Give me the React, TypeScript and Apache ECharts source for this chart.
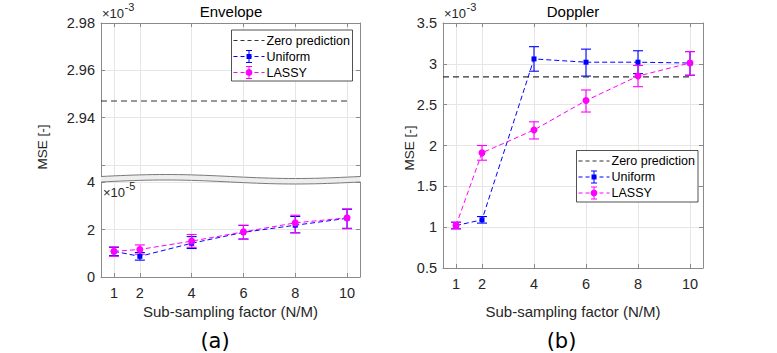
import React, { useEffect, useRef } from "react";
import * as echarts from "echarts";

// ---------- data ----------
const factors = [1, 2, 4, 6, 8, 10];

// Envelope (upper panel in ×1e-3, lower panel in ×1e-5)
const envZeroPrediction = 2.947;
const envUniform = [1.08, 0.87, 1.42, 1.88, 2.18, 2.47];
const envUniformLo = [0.9, 0.71, 1.2, 1.6, 1.86, 2.05];
const envUniformHi = [1.25, 1.03, 1.7, 2.17, 2.55, 2.85];
const envLassy = [1.08, 1.16, 1.51, 1.9, 2.28, 2.49];
const envLassyLo = [0.87, 0.96, 1.25, 1.59, 1.86, 2.03];
const envLassyHi = [1.27, 1.35, 1.79, 2.18, 2.6, 2.87];

// Doppler (×1e-3)
const dopZeroPrediction = 2.84;
const dopUniform = [1.02, 1.09, 3.06, 3.02, 3.02, 3.01];
const dopUniformLo = [0.98, 1.05, 2.91, 2.85, 2.88, 2.86];
const dopUniformHi = [1.06, 1.13, 3.21, 3.18, 3.16, 3.15];
const dopLassy = [1.02, 1.91, 2.19, 2.55, 2.85, 3.01];
const dopLassyLo = [0.98, 1.82, 2.08, 2.41, 2.72, 2.86];
const dopLassyHi = [1.06, 2.0, 2.29, 2.68, 2.98, 3.15];

const envUpperTickLabels = [2.94, 2.96, 2.98];
const envUpperTicks = [2.92, 2.94, 2.96, 2.98];
const zeroLineX = [0.5, 10];

const seriesNames = ["Zero prediction", "Uniform", "LASSY"];

// ---------- style ----------
const FONT = "'Liberation Sans', Arial, Helvetica, sans-serif";
const AXIS = "#8a8a8a";
const GRIDC = "#e6e6e6";
const TXT = "#262626";
const BLUE = "#0000ff";
const MAG = "#ff00ff";
const ZERO = "#333333";

const pairs = (xs: number[], ys: number[]) => xs.map((x, i) => [x, ys[i]]);
const triples = (xs: number[], lo: number[], hi: number[]) => xs.map((x, i) => [x, lo[i], hi[i]]);

function errBars(name: string, color: string, xi: number, yi: number, data: number[][]) {
  return {
    type: "custom",
    name,
    xAxisIndex: xi,
    yAxisIndex: yi,
    data,
    encode: { x: 0, y: [1, 2] },
    renderItem: (params: any, api: any) => {
      const x = api.value(0);
      const top = api.coord([x, api.value(2)]);
      const bot = api.coord([x, api.value(1)]);
      const hw = 5;
      const st = { stroke: color, lineWidth: 1.1 };
      return {
        type: "group",
        children: [
          { type: "line", shape: { x1: top[0], y1: top[1], x2: bot[0], y2: bot[1] }, style: st },
          { type: "line", shape: { x1: top[0] - hw, y1: top[1], x2: top[0] + hw, y2: top[1] }, style: st },
          { type: "line", shape: { x1: bot[0] - hw, y1: bot[1], x2: bot[0] + hw, y2: bot[1] }, style: st },
        ],
      };
    },
    z: 3,
  };
}

function lineSeries(name: string, color: string, xi: number, yi: number, data: number[][], symbol: string, size: number) {
  return {
    type: "line",
    name,
    xAxisIndex: xi,
    yAxisIndex: yi,
    data,
    symbol,
    symbolSize: size,
    showSymbol: true,
    itemStyle: { color, borderWidth: 0 },
    lineStyle: { color, width: 1, type: [5, 3] },
    z: 4,
  };
}

function xAxisCfg(grid: number, position: string, labels: boolean, split: boolean, name?: string, nameGap?: number) {
  return {
    type: "value",
    gridIndex: grid,
    position,
    min: 0.5,
    max: 10.5,
    name: name || "",
    nameLocation: "middle",
    nameGap: nameGap || 0,
    nameTextStyle: { fontFamily: FONT, fontSize: 15, color: TXT },
    axisLine: { show: true, onZero: false, lineStyle: { color: AXIS, width: 1 } },
    axisTick: { show: true, inside: true, length: 4, customValues: factors, lineStyle: { color: AXIS } },
    axisLabel: { show: labels, customValues: factors, margin: 8, fontFamily: FONT, fontSize: 14.5, color: TXT },
    splitLine: { show: split, lineStyle: { color: GRIDC, width: 1 } },
  };
}

function yAxisCfg(grid: number, position: string, labels: boolean, split: boolean, min: number, max: number, extra: any) {
  return {
    type: "value",
    gridIndex: grid,
    position,
    min,
    max,
    axisLine: { show: true, onZero: false, lineStyle: { color: AXIS, width: 1 } },
    axisTick: { show: true, inside: true, length: 4, lineStyle: { color: AXIS }, ...(extra.tick || {}) },
    axisLabel: {
      show: labels,
      margin: 6,
      fontFamily: FONT,
      fontSize: 14.5,
      color: TXT,
      ...(extra.label || {}),
    },
    splitLine: { show: split, lineStyle: { color: GRIDC, width: 1 } },
    ...(extra.axis || {}),
  };
}

function legendGraphic(bx: number, by: number, bw: number, bh: number) {
  const els: any[] = [];
  els.push({
    type: "rect",
    shape: { x: bx, y: by, width: bw, height: bh },
    style: { fill: "#ffffff", stroke: "#262626", lineWidth: 0.8 },
    z: 100,
  });
  const lx0 = bx + 2;
  const lx1 = bx + 33;
  const mx = (lx0 + lx1) / 2;
  const colors = [ZERO, BLUE, MAG];
  seriesNames.forEach((nm, i) => {
    const cy = by + 10.5 + i * 16;
    const c = colors[i];
    els.push({
      type: "line",
      shape: { x1: lx0, y1: cy, x2: lx1, y2: cy },
      style: { stroke: c, lineWidth: 1, lineDash: [4, 3] },
      z: 101,
    });
    if (i > 0) {
      const st = { stroke: c, lineWidth: 1 };
      els.push({ type: "line", shape: { x1: mx, y1: cy - 6, x2: mx, y2: cy + 6 }, style: st, z: 101 });
      els.push({ type: "line", shape: { x1: mx - 3, y1: cy - 6, x2: mx + 3, y2: cy - 6 }, style: st, z: 101 });
      els.push({ type: "line", shape: { x1: mx - 3, y1: cy + 6, x2: mx + 3, y2: cy + 6 }, style: st, z: 101 });
      if (i === 1) {
        els.push({ type: "rect", shape: { x: mx - 2.5, y: cy - 2.5, width: 5, height: 5 }, style: { fill: c }, z: 102 });
      } else {
        els.push({ type: "circle", shape: { cx: mx, cy, r: 3.4 }, style: { fill: c }, z: 102 });
      }
    }
    els.push({
      type: "text",
      x: lx1 + 2,
      y: cy,
      style: { text: nm, fontFamily: FONT, fontSize: 12.5, fill: "#000", verticalAlign: "middle", align: "left" },
      z: 101,
    });
  });
  return els;
}

function exponentLabel(x: number, y: number, exp: string) {
  return [
    {
      type: "text",
      x,
      y,
      style: { text: "×10", fontFamily: FONT, fontSize: 13, fill: TXT, verticalAlign: "middle", align: "left" },
      z: 50,
    },
    {
      type: "text",
      x: x + 22.5,
      y: y - 6.5,
      style: { text: exp, fontFamily: FONT, fontSize: 11, fill: TXT, verticalAlign: "middle", align: "left" },
      z: 50,
    },
  ];
}

function breakGraphic(x0: number, w: number, yTop: number, gap: number) {
  const upper: number[][] = [];
  const lower: number[][] = [];
  const n = 40;
  for (let i = 0; i <= n; i++) {
    const x = x0 + (w * i) / n;
    const dy = -2 * Math.sin((2 * Math.PI * i) / n);
    upper.push([x, yTop + dy]);
    lower.push([x, yTop + gap + dy]);
  }
  const poly = upper.concat(lower.slice().reverse());
  return [
    { type: "polygon", shape: { points: poly }, style: { fill: "#ededed" }, z: 20 },
    { type: "polyline", shape: { points: upper }, style: { stroke: "#7a7a7a", lineWidth: 1, fill: null }, z: 21 },
    { type: "polyline", shape: { points: lower }, style: { stroke: "#7a7a7a", lineWidth: 1, fill: null }, z: 21 },
  ];
}

export default function App() {
  const ref = useRef<HTMLDivElement>(null);

  useEffect(() => {
    document.body.style.margin = "0";
    if (!ref.current) return;
    const chart = echarts.init(ref.current, null, { renderer: "svg" });

    const option: any = {
      animation: false,
      backgroundColor: "#ffffff",
      title: [
        {
          text: "Envelope",
          left: 231,
          top: 4,
          textAlign: "center",
          padding: 0,
          textStyle: { fontFamily: FONT, fontSize: 15, fontWeight: "normal", color: "#000" },
        },
        {
          text: "Doppler",
          left: 573,
          top: 4,
          textAlign: "center",
          padding: 0,
          textStyle: { fontFamily: FONT, fontSize: 15, fontWeight: "normal", color: "#000" },
        },
      ],
      grid: [
        { left: 101, top: 23, width: 259, height: 153.5, outerBoundsMode: "none", containLabel: false },
        { left: 101, top: 182, width: 259, height: 95, outerBoundsMode: "none", containLabel: false },
        { left: 443, top: 23, width: 260, height: 245, outerBoundsMode: "none", containLabel: false },
      ],
      xAxis: [
        xAxisCfg(0, "top", false, true),
        xAxisCfg(1, "bottom", true, true, "Sub-sampling factor (N/M)", 27),
        xAxisCfg(2, "bottom", true, true, "Sub-sampling factor (N/M)", 36),
        xAxisCfg(2, "top", false, false),
      ],
      yAxis: [
        yAxisCfg(0, "left", true, true, 2.9151, 2.98, {
          tick: { customValues: envUpperTicks },
          label: { customValues: envUpperTickLabels, formatter: (v: number) => v.toFixed(2) },
        }),
        yAxisCfg(0, "right", false, false, 2.9151, 2.98, { tick: { customValues: envUpperTicks } }),
        yAxisCfg(1, "left", true, true, 0, 4, { axis: { interval: 2 } }),
        yAxisCfg(1, "right", false, false, 0, 4, { axis: { interval: 2 } }),
        yAxisCfg(2, "left", true, true, 0.5, 3.5, { axis: { interval: 0.5 } }),
        yAxisCfg(2, "right", false, false, 0.5, 3.5, { axis: { interval: 0.5 } }),
      ],
      series: [
        {
          type: "line",
          name: seriesNames[0],
          xAxisIndex: 0,
          yAxisIndex: 0,
          data: zeroLineX.map((x) => [x, envZeroPrediction]),
          symbol: "none",
          lineStyle: { color: ZERO, width: 1.1, type: [6, 4] },
        },
        errBars(seriesNames[1], BLUE, 1, 2, triples(factors, envUniformLo, envUniformHi)),
        lineSeries(seriesNames[1], BLUE, 1, 2, pairs(factors, envUniform), "rect", 5),
        errBars(seriesNames[2], MAG, 1, 2, triples(factors, envLassyLo, envLassyHi)),
        lineSeries(seriesNames[2], MAG, 1, 2, pairs(factors, envLassy), "circle", 7),

        {
          type: "line",
          name: seriesNames[0],
          xAxisIndex: 2,
          yAxisIndex: 4,
          data: zeroLineX.map((x) => [x, dopZeroPrediction]),
          symbol: "none",
          lineStyle: { color: ZERO, width: 1.1, type: [6, 4] },
        },
        errBars(seriesNames[1], BLUE, 2, 4, triples(factors, dopUniformLo, dopUniformHi)),
        lineSeries(seriesNames[1], BLUE, 2, 4, pairs(factors, dopUniform), "rect", 5),
        errBars(seriesNames[2], MAG, 2, 4, triples(factors, dopLassyLo, dopLassyHi)),
        lineSeries(seriesNames[2], MAG, 2, 4, pairs(factors, dopLassy), "circle", 7),
      ],
      graphic: [
        ...breakGraphic(101, 259, 176.5, 5.5),
        ...exponentLabel(102, 13.5, "-3"),
        ...exponentLabel(103, 192.5, "-5"),
        ...exponentLabel(444, 13.5, "-3"),
        ...legendGraphic(231.5, 30, 121, 51),
        ...legendGraphic(576.5, 150.5, 121.5, 51.5),
        {
          type: "text",
          x: 42,
          y: 147,
          rotation: Math.PI / 2,
          style: { text: "MSE [-]", fontFamily: FONT, fontSize: 13.5, fill: TXT, align: "center", verticalAlign: "middle" },
        },
        {
          type: "text",
          x: 409,
          y: 148,
          rotation: Math.PI / 2,
          style: { text: "MSE [-]", fontFamily: FONT, fontSize: 13.5, fill: TXT, align: "center", verticalAlign: "middle" },
        },
        {
          type: "text",
          x: 215,
          y: 341,
          style: { text: "(a)", fontFamily: "'DejaVu Sans', sans-serif", fontSize: 21, fill: "#000", align: "center", verticalAlign: "middle" },
        },
        {
          type: "text",
          x: 561.5,
          y: 341,
          style: { text: "(b)", fontFamily: "'DejaVu Sans', sans-serif", fontSize: 21, fill: "#000", align: "center", verticalAlign: "middle" },
        },
      ],
    };

    chart.setOption(option);
    return () => chart.dispose();
  }, []);

  return <div ref={ref} style={{ width: 777, height: 353 }} />;
}
